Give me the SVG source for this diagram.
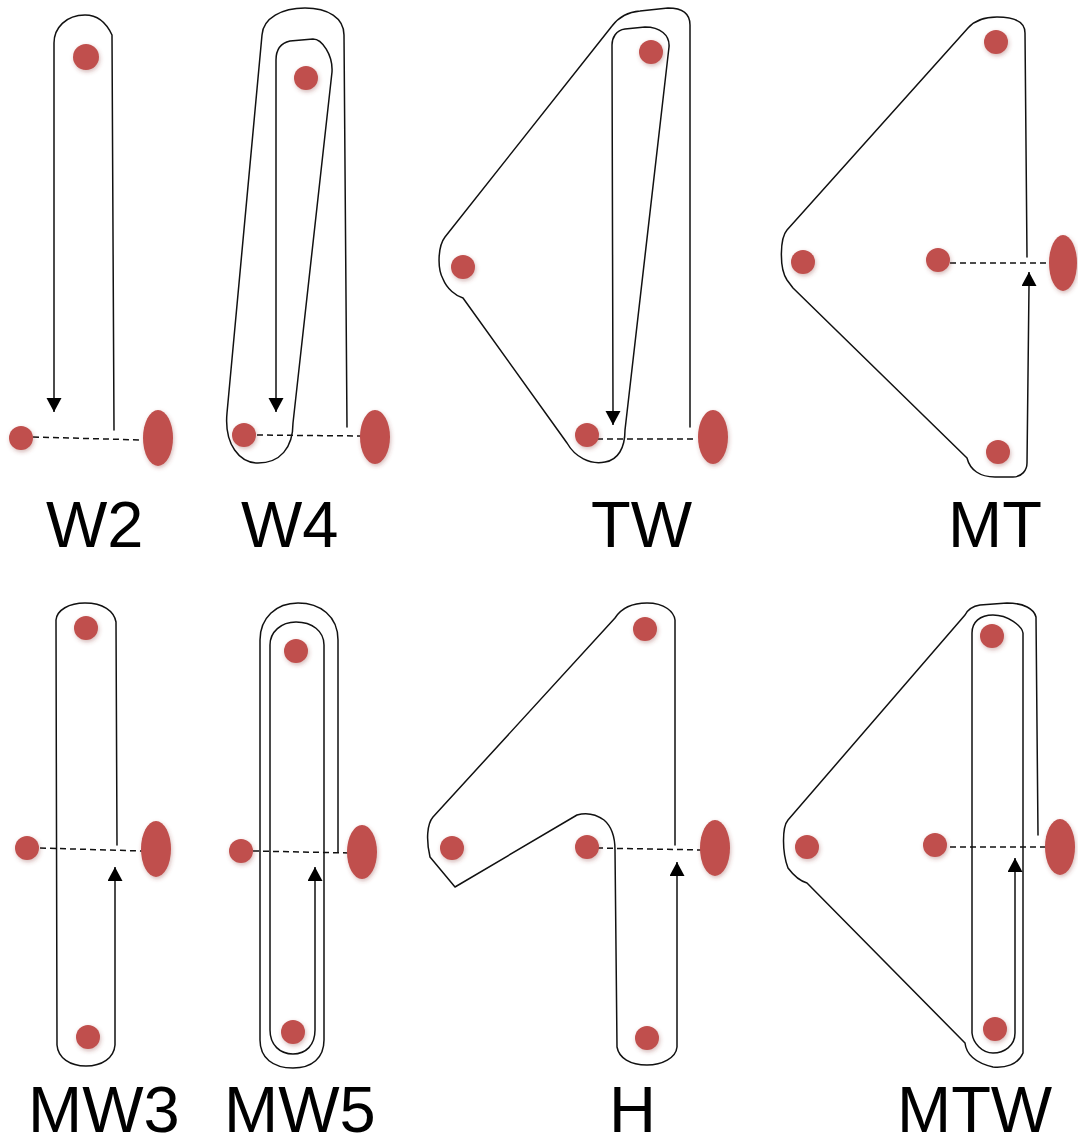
<svg xmlns="http://www.w3.org/2000/svg" width="1078" height="1138" viewBox="0 0 1078 1138">
<style>
.o{fill:none;stroke:#111;stroke-width:1.5;stroke-linejoin:round;stroke-linecap:round}
.a{fill:none;stroke:#111;stroke-width:1.5;marker-end:url(#ah)}
.d{fill:none;stroke:#111;stroke-width:1.5;stroke-dasharray:6 4}
.n{fill:#c0504d;filter:url(#sh)}
.t{font-family:"Liberation Sans",Arial,sans-serif;font-size:65px;fill:#000}
</style>
<defs>
<filter id="sh" x="-50%" y="-50%" width="200%" height="200%">
<feGaussianBlur in="SourceAlpha" stdDeviation="2"/>
<feOffset dx="1" dy="2" result="b"/>
<feFlood flood-color="#8a3a38" flood-opacity="0.35"/>
<feComposite in2="b" operator="in" result="s"/>
<feGaussianBlur in="SourceGraphic" stdDeviation="0.7" result="g"/>
<feMerge><feMergeNode in="s"/><feMergeNode in="g"/></feMerge>
</filter>
<marker id="ah" markerUnits="userSpaceOnUse" markerWidth="16" markerHeight="16" refX="14" refY="7.5" orient="auto" viewBox="0 0 16 16">
<path d="M0,0 L14,7.5 L0,15 z" fill="#000"/>
</marker>
</defs>

<g id="connectors">
<!-- W2 -->
<path class="o" d="M114,430 L112,35 C106,22 98,15 85,15 C66,15 54,28 54,43 L54,398"/>
<path class="a" d="M54,398 L54,412"/>
<path class="d" d="M33,437 L142,440"/>
<!-- W4 -->
<path class="o" d="M347,427 L344,35 C344,18 328,8 305,8 C282,8 263,18 262,35 L227,413 C224,445 240,463 258,463 C280,463 293,448 293,423 L332,72 C333,55 322,39 313,39 L290,41 C281,43 276,50 276,60 L276,398"/>
<path class="a" d="M276,398 L276,412"/>
<path class="d" d="M257,435 L362,436"/>
<!-- TW -->
<path class="o" d="M690,427 L690,25 C690,13 681,8 668,8 L640,11 C628,12 618,18 612,26 L445,237 C438,246 437,268 443,279 C447,289 456,296 463,298 L567,443 C575,457 590,465 605,462 C618,460 625,448 625,430 L669,47 C670,35 660,27 645,27 L625,29 C616,30 612,38 612,45 L613,411"/>
<path class="a" d="M613,411 L613,425"/>
<path class="d" d="M597,439 L697,439"/>
<!-- MT -->
<path class="o" d="M1027,257 L1025,33 C1025,22 1015,17 997,17 C985,17 975,20 968,28 L787,230 C780,238 779,268 787,280 L793,288 L967,458 C970,470 980,477 995,477 L1013,477 C1022,477 1027,470 1027,463 L1029,286"/>
<path class="a" d="M1029,286 L1029,272"/>
<path class="d" d="M950,263 L1052,263"/>
<!-- MW3 -->
<path class="o" d="M117,845 L116,622 C114,611 103,603 85,603 C69,603 57,610 56,620 L57,1045 C58,1058 70,1066 86,1066 C102,1066 114,1058 115,1045 L115,881"/>
<path class="a" d="M115,881 L115,867"/>
<path class="d" d="M40,848 L142,851"/>
<!-- MW5 -->
<path class="o" d="M338,852 L338,640 C338,616 320,603 298,603 C276,603 260,618 260,640 L260,1040 C260,1058 273,1068 293,1068 C312,1068 324,1058 324,1040 L324,645 C324,631 312,622 296,622 C281,622 270,632 270,645 L270,1030 C270,1045 280,1054 293,1054 C306,1054 315,1045 315,1030 L315,881"/>
<path class="a" d="M315,881 L315,867"/>
<path class="d" d="M253,851 L350,853"/>
<!-- H -->
<path class="o" d="M675,845 L675,620 C674,612 665,603 647,603 C635,603 622,607 615,618 L433,817 C427,824 426,840 430,857 L455,887 L577,815 C587,812 597,815 604,820 C611,826 615,835 615,850 L617,1047 C619,1058 630,1065 647,1065 C662,1065 676,1058 677,1047 L677,876"/>
<path class="a" d="M677,876 L677,862"/>
<path class="d" d="M597,848 L703,850"/>
<!-- MTW -->
<path class="o" d="M1038,835 L1036,617 C1034,609 1024,603 1007,603 L980,605 C974,606 968,609 965,615 L788,820 C782,827 782,852 788,868 C794,876 800,881 807,883 L965,1043 C966,1052 972,1062 993,1067 C1005,1068 1018,1065 1023,1053 L1023,633 C1022,626 1008,615 993,615 C980,615 972,622 972,633 L972,1033 C973,1043 982,1053 993,1053 C1004,1053 1015,1046 1015,1033 L1015,872"/>
<path class="a" d="M1015,872 L1015,858"/>
<path class="d" d="M950,847 L1048,847"/>
</g>

<g id="W2">
<circle id="W2-top" class="n" cx="86" cy="57" r="13"/>
<circle id="W2-left" class="n" cx="21" cy="438" r="12"/>
<ellipse id="W2-right" class="n" cx="158" cy="438" rx="15" ry="28"/>
<text class="t" x="46" y="547">W2</text>
</g>
<g id="W4">
<circle id="W4-top" class="n" cx="306" cy="78" r="12"/>
<circle id="W4-left" class="n" cx="244" cy="435" r="12"/>
<ellipse id="W4-right" class="n" cx="375" cy="437" rx="15" ry="27"/>
<text class="t" x="241" y="547">W4</text>
</g>
<g id="TW">
<circle id="TW-top" class="n" cx="651" cy="52" r="12"/>
<circle id="TW-left" class="n" cx="463" cy="267" r="12"/>
<circle id="TW-bottom" class="n" cx="587" cy="435" r="12"/>
<ellipse id="TW-right" class="n" cx="713" cy="437" rx="15" ry="27"/>
<text class="t" x="591" y="547">TW</text>
</g>
<g id="MT">
<circle id="MT-top" class="n" cx="996" cy="42" r="12"/>
<circle id="MT-left" class="n" cx="803" cy="262" r="12"/>
<circle id="MT-mid" class="n" cx="938" cy="260" r="12"/>
<circle id="MT-bottom" class="n" cx="998" cy="452" r="12"/>
<ellipse id="MT-right" class="n" cx="1063" cy="263" rx="14" ry="28"/>
<text class="t" x="948" y="547">MT</text>
</g>
<g id="MW3">
<circle id="MW3-top" class="n" cx="86" cy="628" r="12"/>
<circle id="MW3-left" class="n" cx="27" cy="848" r="12"/>
<circle id="MW3-bottom" class="n" cx="88" cy="1037" r="12"/>
<ellipse id="MW3-right" class="n" cx="156" cy="849" rx="15" ry="28"/>
<text class="t" x="28" y="1132">MW3</text>
</g>
<g id="MW5">
<circle id="MW5-top" class="n" cx="296" cy="651" r="12"/>
<circle id="MW5-left" class="n" cx="241" cy="851" r="12"/>
<circle id="MW5-bottom" class="n" cx="293" cy="1032" r="12"/>
<ellipse id="MW5-right" class="n" cx="362" cy="852" rx="15" ry="27"/>
<text class="t" x="224" y="1132">MW5</text>
</g>
<g id="H">
<circle id="H-top" class="n" cx="645" cy="629" r="12"/>
<circle id="H-left" class="n" cx="452" cy="848" r="12"/>
<circle id="H-mid" class="n" cx="587" cy="847" r="12"/>
<circle id="H-bottom" class="n" cx="647" cy="1038" r="12"/>
<ellipse id="H-right" class="n" cx="715" cy="848" rx="15" ry="28"/>
<text class="t" x="609" y="1132">H</text>
</g>
<g id="MTW">
<circle id="MTW-top" class="n" cx="992" cy="636" r="12"/>
<circle id="MTW-left" class="n" cx="807" cy="847" r="12"/>
<circle id="MTW-mid" class="n" cx="935" cy="845" r="12"/>
<circle id="MTW-bottom" class="n" cx="995" cy="1029" r="12"/>
<ellipse id="MTW-right" class="n" cx="1060" cy="847" rx="15" ry="28"/>
<text class="t" x="897" y="1132">MTW</text>
</g>
</svg>
